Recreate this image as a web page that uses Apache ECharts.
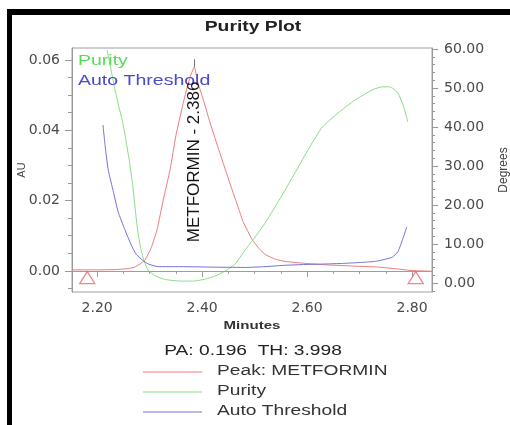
<!DOCTYPE html>
<html>
<head>
<meta charset="utf-8">
<title>Purity Plot</title>
<script src="https://cdn.jsdelivr.net/npm/echarts@6.0.0/dist/echarts.min.js"></script>
<style>
  html, body { margin: 0; padding: 0; background: #fff; }
  #chart { width: 510px; height: 425px; }
</style>
</head>
<body>
<div id="chart"></div>
<script>
// axis ticks / labels
const xMajor = [2.2, 2.4, 2.6, 2.8];
const xMinor = [2.25, 2.3, 2.35, 2.45, 2.5, 2.55, 2.65, 2.7, 2.75];
const auMajor = [0, 0.02, 0.04, 0.06];
const auMinor = [-0.005, 0.005, 0.01, 0.015, 0.025, 0.03, 0.035, 0.045, 0.05, 0.055];
const degMajor = [0, 10, 20, 30, 40, 50, 60];
const degMinor = [-2, 2, 4, 6, 8, 12, 14, 16, 18, 22, 24, 26, 28, 32, 34, 36, 38, 42, 44, 46, 48, 52, 54, 56, 58];

// chromatogram (AU)
const peakTime = [2.152, 2.200, 2.240, 2.260, 2.270, 2.282, 2.291, 2.303, 2.314, 2.326, 2.339, 2.350, 2.362, 2.371, 2.378, 2.385,
                  2.392, 2.402, 2.413, 2.425, 2.444, 2.459, 2.470, 2.478, 2.495, 2.510, 2.520, 2.540, 2.558, 2.600, 2.640, 2.700, 2.735, 2.770, 2.800, 2.838];
const peakAU = [0.0003, 0.0003, 0.0004, 0.0007, 0.0010, 0.0020, 0.0031, 0.0066, 0.0117, 0.0203, 0.0289, 0.0385, 0.0465, 0.0520, 0.0555, 0.0580,
                0.0535, 0.0488, 0.0432, 0.0375, 0.0289, 0.0222, 0.0175, 0.0140, 0.0090, 0.0061, 0.0047, 0.0033, 0.0027, 0.0021, 0.0017, 0.0013, 0.0011, 0.0006, 0.0001, -0.0001];

// purity angle (degrees)
const purityTime = [2.219, 2.225, 2.232, 2.240, 2.248, 2.254, 2.261, 2.267, 2.272, 2.277, 2.283, 2.290, 2.297, 2.311, 2.330, 2.358, 2.383,
                    2.406, 2.425, 2.444, 2.463, 2.482, 2.501, 2.520, 2.539, 2.558, 2.583, 2.606, 2.629, 2.659, 2.691, 2.724, 2.743, 2.758, 2.773, 2.783, 2.792];
const purityDeg = [59.7, 55.6, 50.8, 45.9, 41.5, 37.2, 31.5, 25.8, 19.5, 13.6, 8.8, 5.4, 3.3, 1.8, 0.9, 0.5, 0.5,
                   1.0, 1.8, 3.1, 4.9, 8.5, 11.8, 15.4, 19.5, 23.8, 29.7, 35.1, 40.0, 43.6, 46.9, 49.5, 50.3, 50.3, 48.7, 45.6, 41.3];

// auto threshold (degrees)
const thresholdTime = [2.211, 2.216, 2.221, 2.231, 2.240, 2.253, 2.265, 2.274, 2.286, 2.297, 2.316, 2.358, 2.434, 2.482, 2.520,
                       2.558, 2.596, 2.640, 2.672, 2.705, 2.730, 2.743, 2.762, 2.773, 2.781, 2.790];
const thresholdDeg = [40.5, 34.1, 29.0, 23.3, 18.2, 13.6, 9.7, 7.4, 5.9, 4.9, 4.2, 4.2, 4.05, 4.0, 4.2,
                      4.55, 4.75, 4.9, 5.05, 5.3, 5.55, 5.9, 6.6, 8.0, 10.8, 14.4];

// peak info
const peakName = 'METFORMIN';
const peakRT = 2.386;
const peakApex = [2.385, 0.058];
const peakLimits = [[2.181, -0.0019], [2.807, -0.0019]];
const PA = 0.196;
const TH = 3.998;

const RED = '#ef7a7a';
const GREEN = '#86dd86';
const BLUE = '#7272dc';
const FONT = '"Liberation Sans", Arial, sans-serif';
const TICK_FONT = '"DejaVu Sans", sans-serif';

const zip = (xs, ys) => xs.map((x, i) => [x, ys[i]]);

const chart = echarts.init(document.getElementById('chart'));

const tickLabel = {
  fontFamily: TICK_FONT, fontSize: 14, color: '#4a4a4a'
};

function minorAxis(extra) {
  return Object.assign({
    type: 'value',
    axisLine: { show: false },
    axisLabel: { show: false },
    splitLine: { show: false }
  }, extra);
}

const option = {
  animation: false,
  backgroundColor: '#fff',
  grid: {
    left: 72, top: 48, right: 78, bottom: 133,
    outerBoundsMode: 'none', containLabel: false,
    show: true, borderColor: '#a0a0a0', borderWidth: 1
  },
  xAxis: [
    {
      type: 'value', min: 2.152, max: 2.838, position: 'bottom',
      axisLine: { show: true, lineStyle: { color: '#999' } },
      axisTick: { show: true, customValues: xMajor, length: 6, lineStyle: { color: '#999' } },
      axisLabel: Object.assign({ customValues: xMajor, margin: 9, formatter: v => v.toFixed(2) }, tickLabel),
      splitLine: { show: false }
    },
    minorAxis({
      min: 2.152, max: 2.838, position: 'bottom',
      axisTick: { show: true, customValues: xMinor, length: 3, lineStyle: { color: '#999' } }
    })
  ],
  yAxis: [
    {
      type: 'value', min: -0.006, max: 0.0634, position: 'left',
      axisLine: { show: true, lineStyle: { color: '#999' } },
      axisTick: { show: true, customValues: auMajor, length: 7, lineStyle: { color: '#999' } },
      axisLabel: Object.assign({ customValues: auMajor, margin: 12, formatter: v => v.toFixed(2) }, tickLabel),
      splitLine: { show: false },
      name: 'AU', nameLocation: 'middle', nameRotate: 90, nameGap: 45, nameMoveOverlap: false,
      nameTextStyle: { fontFamily: FONT, fontSize: 11, color: '#444' }
    },
    minorAxis({
      min: -0.006, max: 0.0634, position: 'left',
      axisTick: { show: true, customValues: auMinor, length: 4, lineStyle: { color: '#999' } }
    }),
    {
      type: 'value', min: -2.3, max: 60.25, position: 'right',
      axisLine: { show: true, lineStyle: { color: '#999' } },
      axisTick: { show: true, customValues: degMajor, length: 6, lineStyle: { color: '#999' } },
      axisLabel: Object.assign({ customValues: degMajor, margin: 12, formatter: v => v.toFixed(2) }, tickLabel),
      splitLine: { show: false },
      name: 'Degrees', nameLocation: 'middle', nameRotate: 90, nameGap: 66, nameMoveOverlap: false,
      nameTextStyle: { fontFamily: FONT, fontSize: 12, color: '#444' }
    },
    minorAxis({
      min: -2.3, max: 60.25, position: 'right',
      axisTick: { show: true, customValues: degMinor, length: 3, lineStyle: { color: '#999' } }
    })
  ],
  series: [
    {
      name: 'Peak: ' + peakName, type: 'line', xAxisIndex: 0, yAxisIndex: 0,
      data: zip(peakTime, peakAU), showSymbol: false, smooth: 0.15,
      lineStyle: { color: RED, width: 1 }, itemStyle: { color: RED },
      markLine: {
        silent: true, symbol: 'none', animation: false, label: { show: false },
        lineStyle: { color: RED, width: 1, type: 'solid' },
        data: [
          { yAxis: 0 },
          [{ coord: peakApex, lineStyle: { color: '#777', width: 1, type: 'solid' } }, { coord: [peakApex[0], 0.0602] }]
        ]
      }
    },
    {
      name: 'Purity', type: 'line', xAxisIndex: 0, yAxisIndex: 2,
      data: zip(purityTime, purityDeg), showSymbol: false, smooth: 0.15,
      lineStyle: { color: GREEN, width: 1 }, itemStyle: { color: GREEN }
    },
    {
      name: 'Auto Threshold', type: 'line', xAxisIndex: 0, yAxisIndex: 2,
      data: zip(thresholdTime, thresholdDeg), showSymbol: false, smooth: 0.15,
      lineStyle: { color: BLUE, width: 1 }, itemStyle: { color: BLUE }
    },
    {
      name: 'Peak limits', type: 'scatter', xAxisIndex: 0, yAxisIndex: 0,
      data: peakLimits, symbol: 'triangle', symbolSize: [15, 12], z: 5,
      itemStyle: { color: 'rgba(255,255,255,0)', borderColor: '#e86a6a', borderWidth: 1.3 }
    }
  ]
};

chart.setOption(option);

// text placed outside the plot, stretched like the original export
function stretchedText(text, x, y, font, fill, align, sx) {
  return {
    type: 'text', x: x, y: y, scaleX: sx, z: 10,
    style: { text: text, font: font, fill: fill, align: align, verticalAlign: 'middle' }
  };
}

const legendItems = [
  { label: 'Peak: ' + peakName, color: RED },
  { label: 'Purity', color: GREEN },
  { label: 'Auto Threshold', color: BLUE }
];
const legendRows = [372, 392, 412];

const labelPos = chart.convertToPixel({ xAxisIndex: 0, yAxisIndex: 0 }, [peakRT, 0.031]);

const graphics = [
  // black frame of the screenshot
  { type: 'rect', shape: { x: 7, y: 9, width: 503, height: 6 }, style: { fill: '#000' }, z: 20 },
  { type: 'rect', shape: { x: 7, y: 9, width: 5, height: 416 }, style: { fill: '#000' }, z: 20 },
  stretchedText('Purity Plot', 253, 27, 'bold 14px ' + FONT, '#222', 'center', 1.38),
  stretchedText('Purity', 78, 61, '15px ' + FONT, '#55dd55', 'left', 1.3),
  stretchedText('Auto Threshold', 78, 81, '15px ' + FONT, '#4848d0', 'left', 1.3),
  stretchedText('Minutes', 252, 326, 'bold 11px ' + FONT, '#333', 'center', 1.37),
  stretchedText('PA: ' + PA.toFixed(3) + '  TH: ' + TH.toFixed(3), 253, 351, '14px ' + FONT, '#222', 'center', 1.37),
  {
    type: 'text', x: labelPos[0], y: labelPos[1], rotation: Math.PI / 2, z: 10,
    style: { text: peakName + ' - ' + peakRT.toFixed(3), font: '17px ' + FONT, fill: '#151515', align: 'center', verticalAlign: 'middle' }
  }
];

legendItems.forEach((item, i) => {
  graphics.push({
    type: 'line', shape: { x1: 143, y1: legendRows[i], x2: 202, y2: legendRows[i] },
    style: { stroke: item.color, lineWidth: 1.2 }, z: 10
  });
  graphics.push(stretchedText(item.label, 217, legendRows[i] - 0.5, '14px ' + FONT, '#333', 'left', 1.37));
});

chart.setOption({ graphic: graphics });
</script>
</body>
</html>
